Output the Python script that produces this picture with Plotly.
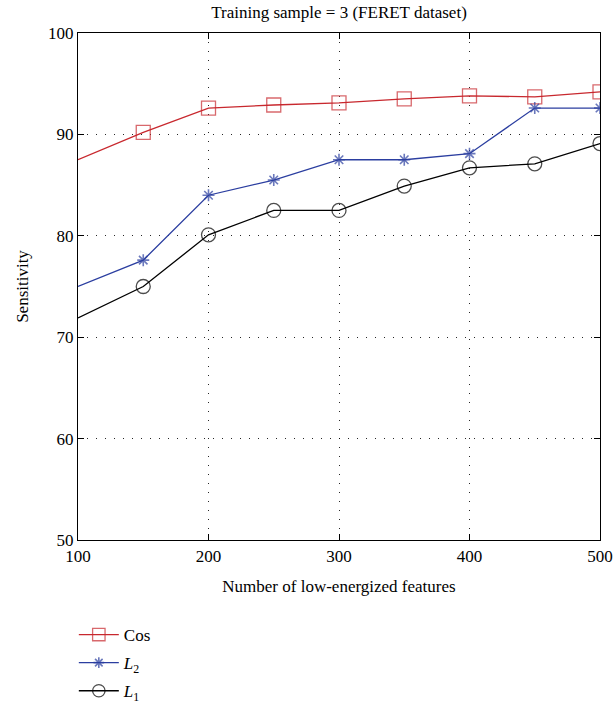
import plotly.graph_objects as go

features = [100, 150, 200, 250, 300, 350, 400, 450, 500]
cos_vals = [87.5, 90.2, 92.6, 92.9, 93.1, 93.5, 93.8, 93.7, 94.2]
l2_vals = [75.0, 77.6, 84.0, 85.5, 87.5, 87.5, 88.1, 92.6, 92.6]
l1_vals = [71.9, 75.0, 80.1, 82.5, 82.5, 84.9, 86.7, 87.1, 89.1]

x_ticks = [100, 200, 300, 400, 500]
y_ticks = [50, 60, 70, 80, 90, 100]

FONT = "Liberation Serif"
RED = "#c8282e"
BLUE = "#2b3ea0"
BLACK = "#000000"

def sizes(n, s):
    return [0] + [s] * (n - 1)

fig = go.Figure()
fig.add_trace(go.Scatter(
    x=features, y=cos_vals, name="Cos", mode="lines+markers", legendgroup="a",
    line=dict(color=RED, width=1.3),
    marker=dict(symbol="square-open", size=sizes(len(features), 14), color=RED, line=dict(width=1.3)),
))
fig.add_trace(go.Scatter(
    x=features, y=l2_vals, name="<i>L</i><sub>2</sub>", mode="lines+markers", legendgroup="b",
    line=dict(color=BLUE, width=1.3),
    marker=dict(symbol="asterisk-open", size=sizes(len(features), 10), color=BLUE, line=dict(width=1.6, color=BLUE)),
))
fig.add_trace(go.Scatter(
    x=features, y=l1_vals, name="<i>L</i><sub>1</sub>", mode="lines+markers", legendgroup="c",
    line=dict(color=BLACK, width=1.3),
    marker=dict(symbol="circle-open", size=sizes(len(features), 14), color=BLACK, line=dict(width=1.3)),
))

axis_common = dict(
    showline=True, linecolor="black", linewidth=1.3, mirror="ticks",
    ticks="inside", ticklen=6, tickcolor="black", tickwidth=1.3,
    showgrid=True, gridcolor="rgba(0,0,0,0.85)", griddash="1px,8px", gridwidth=1.2,
    zeroline=False, automargin=False, tickfont=dict(family=FONT, size=17, color="black"),
)

fig.update_layout(
    width=616, height=704,
    margin=dict(l=78, r=16, t=33, b=164),
    paper_bgcolor="white", plot_bgcolor="white",
    font=dict(family=FONT, size=17, color="black"),
    title=dict(text="Training sample = 3 (FERET dataset)", x=(78 + 600) / 2 / 616, xanchor="center",
               y=1 - 12 / 704, yanchor="middle", font=dict(family=FONT, size=17)),
    xaxis=dict(range=[100, 500], tickvals=x_ticks,
               title=dict(text="Number of low-energized features", font=dict(family=FONT, size=17)),
               **axis_common),
    yaxis=dict(range=[50, 100], tickvals=y_ticks,
               title=dict(text="Sensitivity", font=dict(family=FONT, size=17)),
               **axis_common),
    legend=dict(xref="paper", yref="container", x=-0.008, xanchor="left",
                y=1 - 617 / 704, yanchor="top",
                font=dict(family=FONT, size=17), bgcolor="rgba(0,0,0,0)",
                itemwidth=40, tracegroupgap=3),
)

fig.write_html("out.html")
